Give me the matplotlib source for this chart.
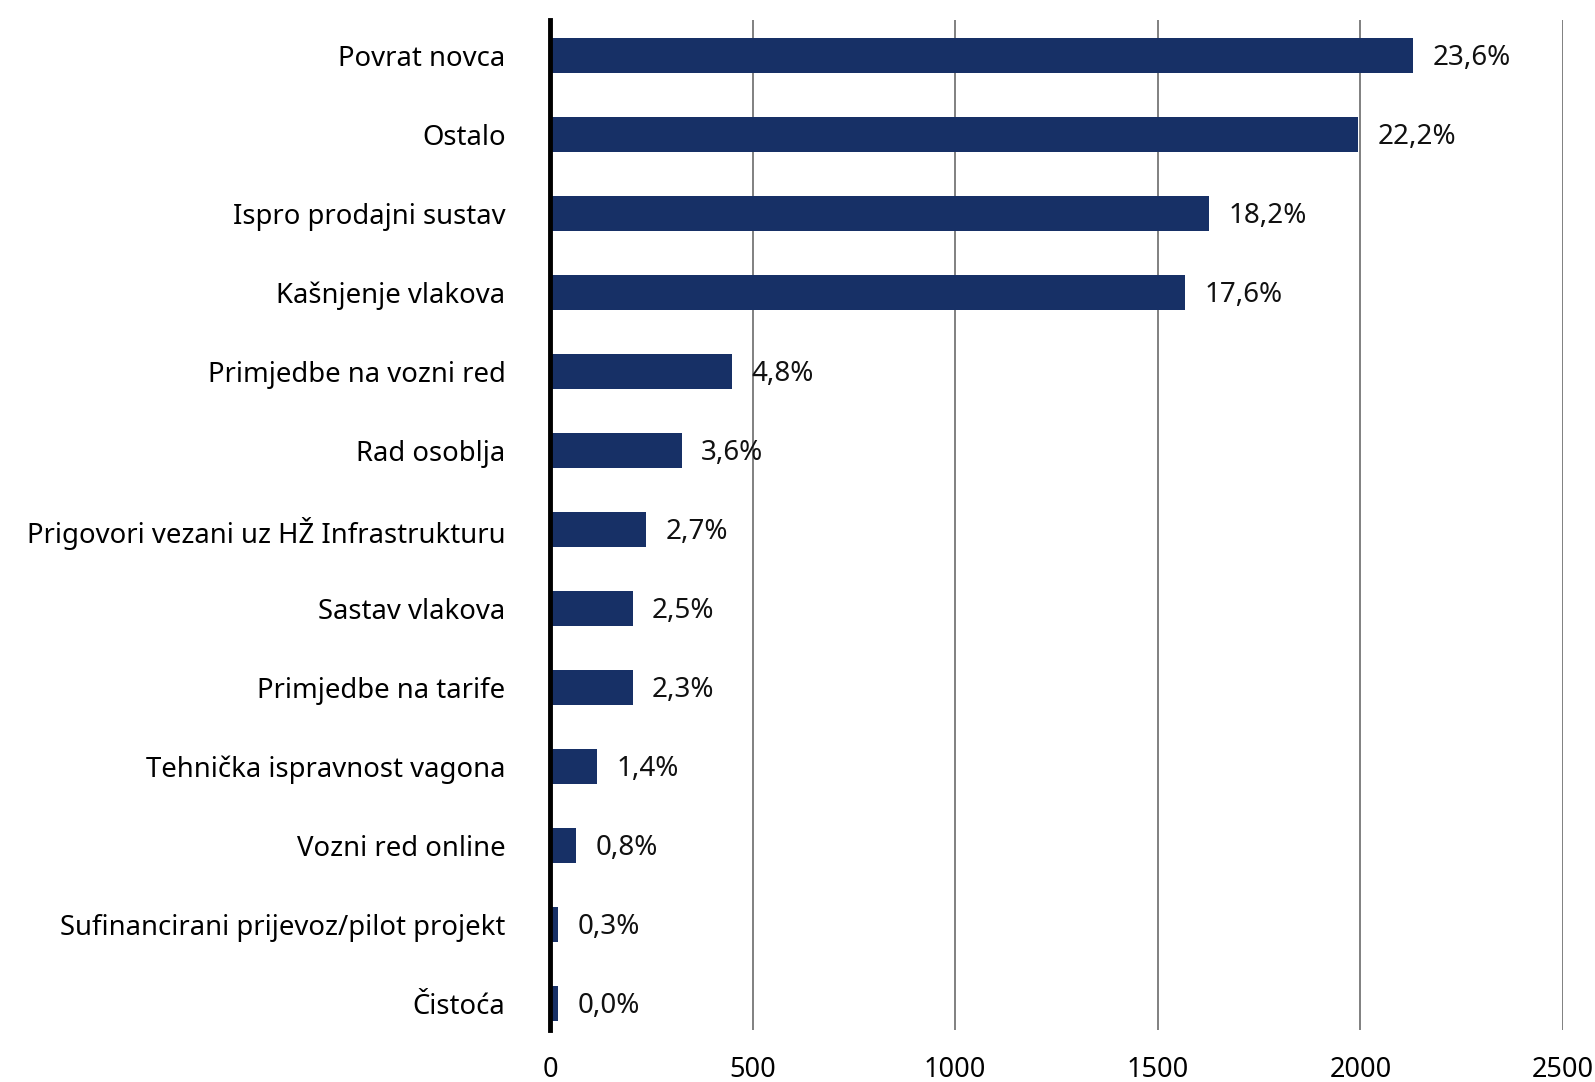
import matplotlib
matplotlib.use("Agg")
import matplotlib.pyplot as plt
import numpy as np

categories = ["Povrat novca", "Ostalo", "Ispro prodajni sustav", "Kašnjenje vlakova",
              "Primjedbe na vozni red", "Rad osoblja", "Prigovori vezani uz HŽ Infrastrukturu",
              "Sastav vlakova", "Primjedbe na tarife", "Tehnička ispravnost vagona",
              "Vozni red online", "Sufinancirani prijevoz/pilot projekt", "Čistoća"]
values = [2130, 1995, 1627, 1567, 448, 325, 237, 204, 204, 116, 64, 21, 21]
pct_labels = ["23,6%", "22,2%", "18,2%", "17,6%", "4,8%", "3,6%", "2,7%",
              "2,5%", "2,3%", "1,4%", "0,8%", "0,3%", "0,0%"]
xticks = [0, 500, 1000, 1500, 2000, 2500]

plt.rcParams['font.family'] = ['Noto Sans', 'DejaVu Sans']

fig = plt.figure(figsize=(15.95, 10.82), dpi=100)
ax = fig.add_axes([0.3448, 0.048, 0.98 - 0.3448, 0.9815 - 0.048])

y = np.arange(len(categories))
ax.barh(y, values, height=0.44, color='#173066', zorder=2)

# percentage labels next to bar ends
for yi, v, lab in zip(y, values, pct_labels):
    ax.annotate(lab, (v, yi), xytext=(14, -2), textcoords='offset points',
                ha='left', va='center', fontsize=20, color='#111111')

ax.set_ylim(12.335, -0.45)
ax.set_xlim(0, 2500)
ax.set_xticks(xticks)
ax.set_yticks(y)
ax.set_yticklabels(categories)
ax.tick_params(axis='y', length=0, pad=32, labelsize=19.8)
ax.tick_params(axis='x', length=0, pad=19, labelsize=19.5)
ax.xaxis.grid(True, color='#808080', linewidth=1.4, zorder=0)
ax.set_axisbelow(True)
for s in ['top', 'right', 'bottom']:
    ax.spines[s].set_visible(False)
ax.spines['left'].set_linewidth(3.5)
ax.spines['left'].set_color('black')
ax.spines['left'].set_zorder(3)

fig.savefig("out.png", dpi=100)
